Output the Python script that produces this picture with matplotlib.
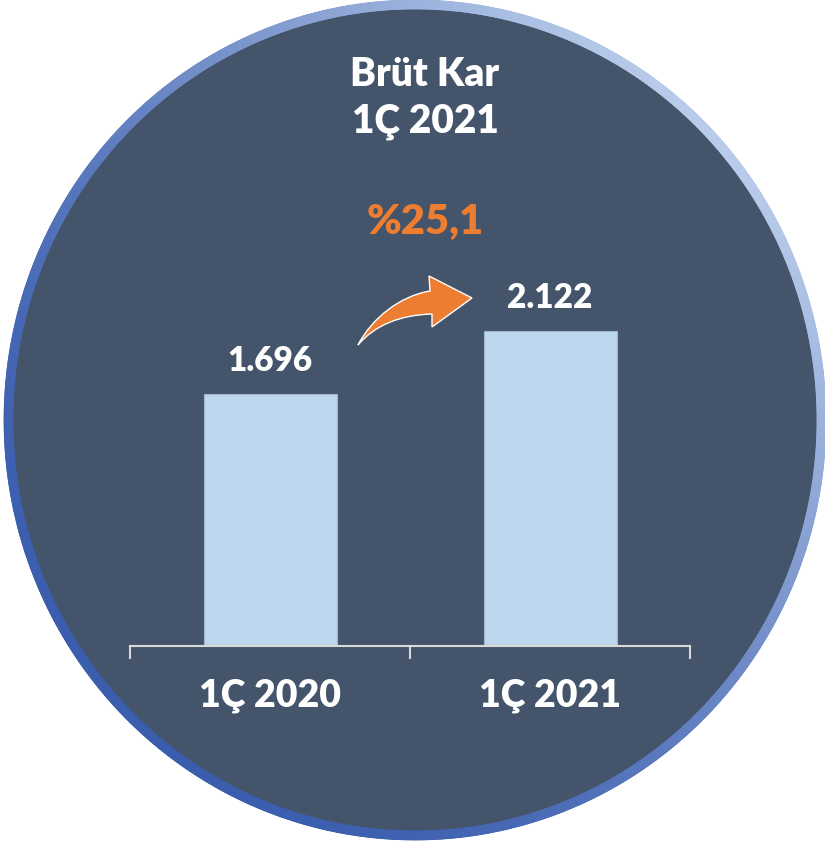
import numpy as np
from matplotlib import pyplot as plt
from matplotlib.collections import LineCollection
from matplotlib.colors import to_rgb
from matplotlib.patches import Ellipse, PathPatch
from matplotlib.path import Path

CATEGORIES = ["1Ç 2020", "1Ç 2021"]
VALUES = [1696, 2122]
VALUE_LABELS = ["1.696", "2.122"]
TITLE = "Brüt Kar\n1Ç 2021"
GROWTH_LABEL = "%25,1"

W, H = 825, 842
FILL = "#44546A"
BAR = "#BDD7EE"
ORANGE = "#ED7D31"
FONT = "Lato"


def px(x, y):
    # pixel coords (top-left origin) -> figure fraction
    return x / W, 1 - y / H


fig = plt.figure(figsize=(W / 100, H / 100), dpi=100)
fig.patch.set_facecolor("white")

# circle background
cx, cy = px(415, 420)
rx, ry = 411 / W, 420 / H
fig.patches.append(
    Ellipse((cx, cy), 2 * rx, 2 * ry, transform=fig.transFigure,
            facecolor=FILL, edgecolor="none", zorder=-2)
)

# gradient ring
theta = np.linspace(0, 2 * np.pi, 721)
inset = 4.5
ex = cx + (rx - inset / W) * np.cos(theta)
ey = cy + (ry - inset / H) * np.sin(theta)
pts = np.column_stack([ex, ey])
segs = np.stack([pts[:-1], pts[1:]], axis=1)
mid = (theta[:-1] + theta[1:]) / 2
t = (np.cos(mid - np.pi / 4) + 1) / 2
t = t ** 1.6
dark = np.array(to_rgb("#3A5DAE"))
light = np.array(to_rgb("#B8CBEA"))
cols = dark[None, :] * (1 - t[:, None]) + light[None, :] * t[:, None]
ring = LineCollection(segs, colors=cols, linewidths=7,
                      transform=fig.transFigure, capstyle="round", zorder=-1)
fig.add_artist(ring)

# bar chart
ax = fig.add_axes([130 / W, 1 - 646 / H, 560 / W, 346 / H], zorder=1)
ax.set_facecolor("none")
x = np.arange(len(CATEGORIES))
bars = ax.bar(x, VALUES, width=0.475, color=BAR, edgecolor="#9FB6CF",
              linewidth=0.8, zorder=2)
ax.set_xlim(-0.5, 1.5)
ax.set_ylim(0, 2330)
for b, lab in zip(bars, VALUE_LABELS):
    ax.annotate(lab, (b.get_x() + b.get_width() / 2, b.get_height()),
                xytext=(0, 24), textcoords="offset points", ha="center",
                va="center", color="white", fontsize=24, fontweight="heavy",
                family=FONT)

for side in ("left", "right", "top"):
    ax.spines[side].set_visible(False)
ax.spines["bottom"].set_color("#D9D9D9")
ax.spines["bottom"].set_linewidth(1.5)
ax.set_yticks([])
ax.set_xticks([-0.5, 0.5, 1.5])
ax.set_xticklabels([])
ax.tick_params(axis="x", length=9, width=1.5, color="#D9D9D9")
for xi, cat in zip(x, CATEGORIES):
    ax.annotate(cat, (xi, 0), xytext=(0, -36), textcoords="offset points",
                ha="center", va="center", color="white", fontsize=27,
                fontweight="heavy", family=FONT)

# title
tx, ty = px(425, 98)
fig.text(tx, ty, TITLE, ha="center", va="center", color="white",
         fontsize=28, fontweight="heavy", family=FONT, linespacing=1.3)

# growth label
gx, gy = px(425, 222)
fig.text(gx, gy, GROWTH_LABEL, ha="center", va="center", color=ORANGE,
         fontsize=30, fontweight="heavy", family=FONT)

# curved arrow
arrow_pts = [
    (358, 345),
    (372, 318), (400, 296), (430, 291),
    (429, 276),
    (472, 298),
    (432, 327),
    (432, 314),
    (400, 315), (375, 325), (358, 345),
]
codes = [Path.MOVETO,
         Path.CURVE4, Path.CURVE4, Path.CURVE4,
         Path.LINETO, Path.LINETO, Path.LINETO, Path.LINETO,
         Path.CURVE4, Path.CURVE4, Path.CURVE4]
arrow = Path([px(*p) for p in arrow_pts], codes)
fig.patches.append(PathPatch(arrow, transform=fig.transFigure,
                             facecolor=ORANGE, edgecolor="white",
                             linewidth=1.0, zorder=3))

fig.savefig("out.png", dpi=100)
